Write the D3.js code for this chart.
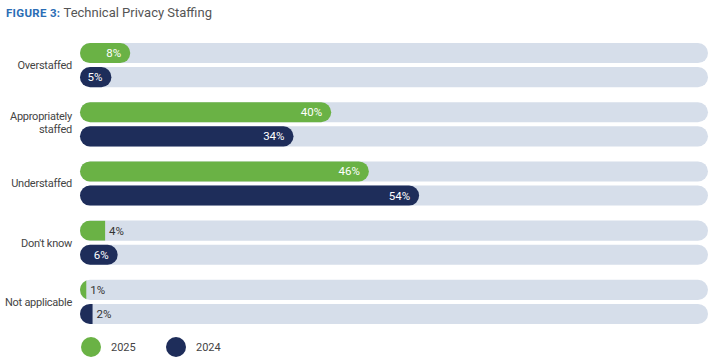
<!DOCTYPE html>
<html><head><meta charset="utf-8">
<script src="https://cdn.jsdelivr.net/npm/d3@7"></script>
<style>
body{margin:0;background:#fff;}
svg{display:block;font-family:Roboto,"Liberation Sans Narrow",sans-serif;}
</style></head>
<body><svg id="c" width="718" height="363"></svg>
<script>
const categories = [["Overstaffed"], ["Appropriately", "staffed"], ["Understaffed"], ["Don't know"], ["Not applicable"]];
const series = ["2025", "2024"];
const values2025 = [8, 40, 46, 4, 1];
const values2024 = [5, 34, 54, 6, 2];
const colors = {"2025": "#6ab245", "2024": "#1e2d5a"};
const trackColor = "#d6deea";

const svg = d3.select("#c");
const x = d3.scaleLinear().domain([0, 100]).range([80, 708]);
const y0 = d3.scaleBand().domain(d3.range(categories.length)).range([43, 324]).paddingInner(0.254).paddingOuter(0);
const y1 = d3.scaleBand().domain(series).range([0, y0.bandwidth()]).paddingInner(0.1667);
const bh = y1.bandwidth();
const r = bh / 2;

// Title
const t = svg.append("text").attr("x", 6).attr("y", 17).attr("font-size", 13);
t.append("tspan").attr("fill", "#2a6db5").attr("font-weight", "bold").attr("font-size", 11.5).attr("letter-spacing", 0.3).text("FIGURE 3: ");
t.append("tspan").attr("fill", "#555").text("Technical Privacy Staffing");

const defs = svg.append("defs");

categories.forEach((cat, i) => {
  const g = svg.append("g").attr("transform", `translate(0,${y0(i)})`);
  const lbl = g.append("text").attr("text-anchor", "end").attr("font-size", 11).attr("letter-spacing", -0.25).attr("fill", "#444");
  const mid = y0.bandwidth() / 2;
  cat.forEach((line, k) => {
    lbl.append("tspan").attr("x", 72).attr("y", mid + 4 + (k - (cat.length - 1) / 2) * 13.5 - (cat.length - 1) * 2).text(line);
  });
  series.forEach(s => {
    const v = s === "2025" ? values2025[i] : values2024[i];
    const yy = y1(s);
    g.append("rect").attr("x", x(0)).attr("y", yy).attr("width", x(100) - x(0)).attr("height", bh)
      .attr("rx", r).attr("fill", trackColor);
    const id = `clip-${i}-${s}`;
    defs.append("clipPath").attr("id", id).append("rect")
      .attr("x", x(0)).attr("y", y0(i) + yy).attr("width", x(100) - x(0)).attr("height", bh).attr("rx", r);
    const inside = v >= 5;
    const w = x(v) - x(0);
    if (inside) {
      g.append("rect").attr("x", x(0)).attr("y", yy).attr("width", w).attr("height", bh)
        .attr("rx", r).attr("fill", colors[s]);
    } else {
      g.append("g").attr("clip-path", `url(#${id})`).attr("transform", `translate(0,${-y0(i)})`)
        .append("rect").attr("x", x(0)).attr("y", y0(i) + yy).attr("width", w).attr("height", bh)
        .attr("fill", colors[s]);
    }
    g.append("text")
      .attr("x", inside ? x(v) - 9 : x(v) + 4)
      .attr("y", yy + bh / 2 + 4)
      .attr("text-anchor", inside ? "end" : "start")
      .attr("font-size", 11.5)
      .attr("fill", inside ? "#fff" : "#333")
      .text(v + "%");
  });
});

// Legend
const leg = svg.append("g");
series.forEach((s, k) => {
  const cx = 91 + k * 85;
  leg.append("circle").attr("cx", cx).attr("cy", 347).attr("r", 10).attr("fill", colors[s]);
  leg.append("text").attr("x", cx + 20).attr("y", 351).attr("font-size", 11).attr("fill", "#444").text(s);
});
</script></body></html>
